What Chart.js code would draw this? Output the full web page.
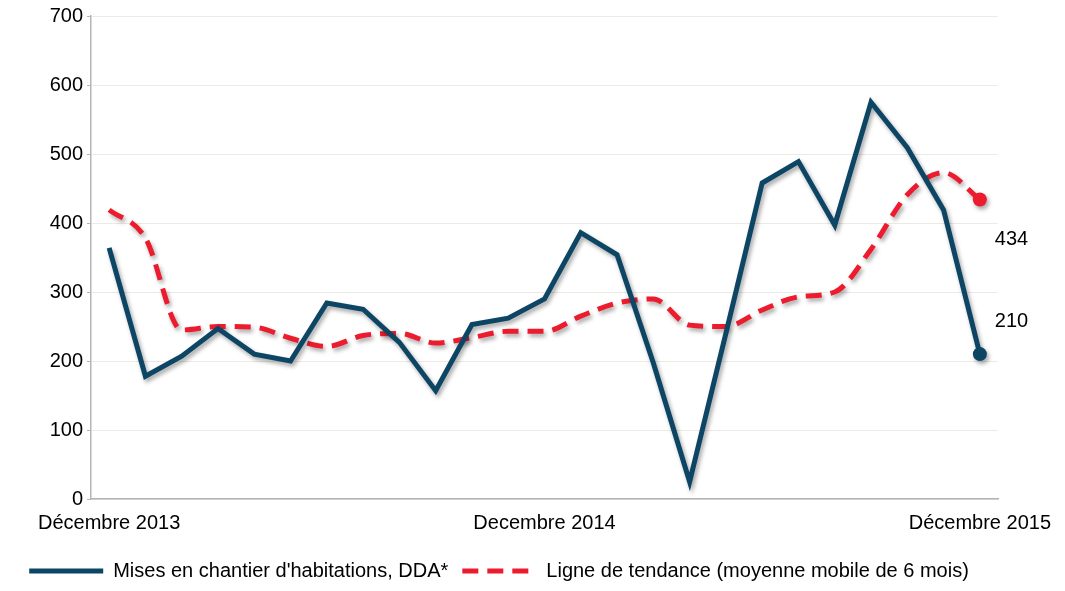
<!DOCTYPE html>
<html>
<head>
<meta charset="utf-8">
<script src="https://cdn.jsdelivr.net/npm/chart.js@4.4.1/dist/chart.umd.min.js"></script>
<style>
  html, body { margin: 0; padding: 0; background: #fff; }
  #wrap { width: 1065px; height: 591px; }
</style>
</head>
<body>
<div id="wrap"><canvas id="chart"></canvas></div>
<script>
// monthly data, Dec 2013 -> Dec 2015
const months = [
    'Décembre 2013', 'Jan 2014', 'Fév 2014', 'Mar 2014', 'Avr 2014', 'Mai 2014',
    'Juin 2014', 'Juil 2014', 'Août 2014', 'Sep 2014', 'Oct 2014', 'Nov 2014',
    'Decembre 2014', 'Jan 2015', 'Fév 2015', 'Mar 2015', 'Avr 2015', 'Mai 2015',
    'Juin 2015', 'Juil 2015', 'Août 2015', 'Sep 2015', 'Oct 2015', 'Nov 2015',
    'Décembre 2015'
];
const shownTicks = ['Décembre 2013', 'Decembre 2014', 'Décembre 2015'];

const misesEnChantier = [364, 178, 207, 247, 210, 200, 284, 275, 227, 157, 253, 262,
    290, 386, 354, 197, 25, 240, 458, 489, 397, 575, 509, 419, 210];
const tendance = [419, 378, 245, 250, 249, 233, 221, 237, 240, 226, 234, 243,
    243, 265, 284, 290, 252, 250, 274, 293, 300, 362, 441, 473, 434];

const BLUE = '#0d4565';
const RED = '#ec1c2e';
const FONT = "'Liberation Sans', Arial, sans-serif";

const lastOnly = (arr, r) => arr.map((v, i) => i === arr.length - 1 ? r : 0);

// soft drop shadow under the lines, like the original
const shadowPlugin = {
    id: 'shadow',
    beforeDatasetsDraw(chart) {
        const ctx = chart.ctx;
        ctx.save();
        ctx.shadowColor = 'rgba(0,0,0,0.35)';
        ctx.shadowBlur = 4;
        ctx.shadowOffsetX = 2;
        ctx.shadowOffsetY = 3;
    },
    afterDatasetsDraw(chart) {
        chart.ctx.restore();
    }
};

// value labels next to the last points
const endLabels = {
    id: 'endLabels',
    afterDatasetsDraw(chart) {
        const ctx = chart.ctx;
        const x = chart.scales.x;
        const y = chart.scales.y;
        const last = months.length - 1;
        ctx.save();
        ctx.font = '20px ' + FONT;
        ctx.fillStyle = '#000';
        ctx.textAlign = 'left';
        ctx.textBaseline = 'middle';
        const px = x.getPixelForValue(last) + 15;
        ctx.fillText(String(tendance[last]), px, y.getPixelForValue(tendance[last]) + 40);
        ctx.fillText(String(misesEnChantier[last]), px, y.getPixelForValue(misesEnChantier[last]) - 33);
        ctx.restore();
    }
};

new Chart(document.getElementById('chart'), {
    type: 'line',
    data: {
        labels: months,
        datasets: [{
            label: "Mises en chantier d'habitations, DDA*",
            data: misesEnChantier,
            borderColor: BLUE,
            backgroundColor: BLUE,
            borderWidth: 5,
            tension: 0,
            pointRadius: lastOnly(misesEnChantier, 7),
            pointBorderWidth: 0
        }, {
            label: 'Ligne de tendance (moyenne mobile de 6 mois)',
            data: tendance,
            borderColor: RED,
            backgroundColor: RED,
            borderWidth: 5,
            borderDash: [16, 9],
            cubicInterpolationMode: 'monotone',
            pointRadius: lastOnly(tendance, 7),
            pointBorderWidth: 0
        }]
    },
    options: {
        responsive: true,
        maintainAspectRatio: false,
        animation: false,
        layout: { padding: { top: 10, right: 67, left: 0, bottom: 0 } },
        scales: {
            x: {
                offset: true,
                grid: { display: false, drawTicks: false },
                border: { display: true, color: '#b4b4b4', width: 1.5 },
                ticks: {
                    autoSkip: false,
                    maxRotation: 0,
                    padding: 12,
                    color: '#000',
                    font: { family: FONT, size: 20 },
                    callback: function(value) {
                        const lab = this.getLabelForValue(value);
                        return shownTicks.includes(lab) ? lab : '';
                    }
                }
            },
            y: {
                min: 0,
                max: 700,
                ticks: {
                    stepSize: 100,
                    padding: 4,
                    color: '#000',
                    font: { family: FONT, size: 20 }
                },
                grid: { color: '#ebebe3', lineWidth: 1, tickLength: 4, tickColor: '#b4b4b4' },
                border: { color: '#b4b4b4', width: 1.5 },
                afterFit(scale) { scale.width = 91; }
            }
        },
        plugins: {
            tooltip: { enabled: false },
            legend: {
                position: 'bottom',
                labels: {
                    usePointStyle: true,
                    pointStyle: 'line',
                    pointStyleWidth: 74,
                    padding: 14,
                    color: '#000',
                    font: { family: FONT, size: 20 },
                    generateLabels(chart) {
                        return chart.data.datasets.map((ds, i) => ({
                            text: ds.label,
                            datasetIndex: i,
                            pointStyle: 'line',
                            strokeStyle: ds.borderColor,
                            fillStyle: ds.borderColor,
                            lineWidth: ds.borderWidth,
                            lineDash: ds.borderDash || [],
                            fontColor: '#000',
                            hidden: false
                        }));
                    }
                }
            }
        }
    },
    plugins: [shadowPlugin, endLabels]
});
</script>
</body>
</html>
